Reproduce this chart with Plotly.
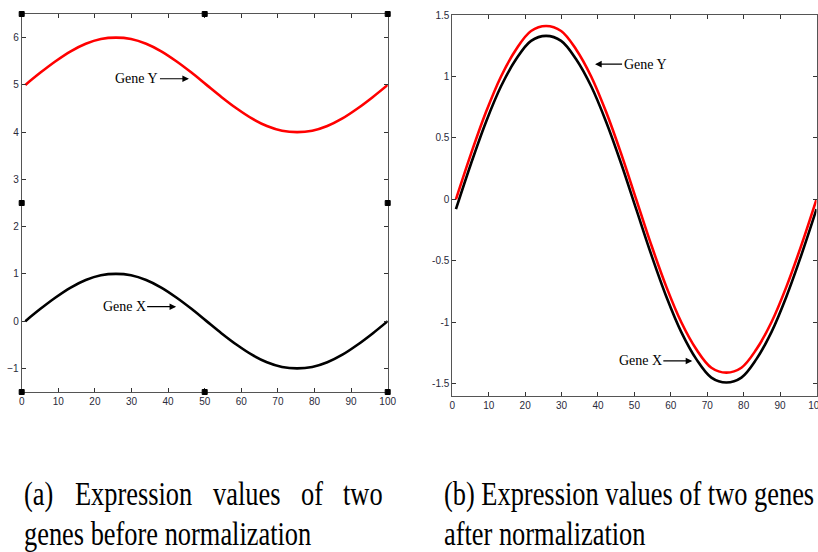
import plotly.graph_objects as go

# ---- data ----
x_pts = [1.0, 5.13, 9.25, 13.38, 17.5, 21.63, 25.75, 29.88, 34.0, 38.13, 42.25, 46.38, 50.5,
         54.63, 58.75, 62.88, 67.0, 71.13, 75.25, 79.38, 83.5, 87.63, 91.75, 95.88, 100.0]

gene_x_before = [0, 0.26, 0.5, 0.71, 0.87, 0.97, 1.0, 0.97, 0.87, 0.71, 0.5, 0.26, 0,
                 -0.26, -0.5, -0.71, -0.87, -0.97, -1.0, -0.97, -0.87, -0.71, -0.5, -0.26, 0]
gene_y_before = [5.0, 5.26, 5.5, 5.71, 5.87, 5.97, 6.0, 5.97, 5.87, 5.71, 5.5, 5.26, 5.0,
                 4.74, 4.5, 4.29, 4.13, 4.03, 4.0, 4.03, 4.13, 4.29, 4.5, 4.74, 5.0]

gene_y_after = [0, 0.37, 0.71, 1.0, 1.22, 1.37, 1.41, 1.37, 1.22, 1.0, 0.71, 0.37, 0,
                -0.37, -0.71, -1.0, -1.22, -1.37, -1.41, -1.37, -1.22, -1.0, -0.71, -0.37, 0]
gene_x_after = [-0.08, 0.29, 0.63, 0.92, 1.14, 1.29, 1.33, 1.29, 1.14, 0.92, 0.63, 0.29, -0.08,
                -0.45, -0.79, -1.08, -1.30, -1.45, -1.49, -1.45, -1.30, -1.08, -0.79, -0.45, -0.08]

x_ticks = [0, 10, 20, 30, 40, 50, 60, 70, 80, 90, 100]
y_ticks_left = [-1, 0, 1, 2, 3, 4, 5, 6]
y_ticks_right = [-1.5, -1, -0.5, 0, 0.5, 1, 1.5]
y_ticktext_right = ["-1.5", "-1", "-0.5", "0", "0.5", "1", "1.5"]

W, H = 818, 552

fig = go.Figure()

line_w = 2.6
fig.add_trace(go.Scatter(x=x_pts, y=gene_y_before, mode="lines", line=dict(color="#ff0000", width=line_w, shape="spline"),
                         xaxis="x", yaxis="y", showlegend=False, hoverinfo="skip"))
fig.add_trace(go.Scatter(x=x_pts, y=gene_x_before, mode="lines", line=dict(color="#000000", width=line_w, shape="spline"),
                         xaxis="x", yaxis="y", showlegend=False, hoverinfo="skip"))
fig.add_trace(go.Scatter(x=x_pts, y=gene_x_after, mode="lines", line=dict(color="#000000", width=line_w, shape="spline"),
                         xaxis="x2", yaxis="y2", showlegend=False, hoverinfo="skip"))
fig.add_trace(go.Scatter(x=x_pts, y=gene_y_after, mode="lines", line=dict(color="#ff0000", width=line_w, shape="spline"),
                         xaxis="x2", yaxis="y2", showlegend=False, hoverinfo="skip"))

tickfont = dict(family="Liberation Sans, Arial, sans-serif", size=10, color="#2a2a3a")
axis_common = dict(showgrid=False, zeroline=False, showline=True, linecolor="#555555", linewidth=1,
                   ticks="inside", ticklen=4, tickcolor="#333333", tickwidth=1, mirror="ticks",
                   tickfont=tickfont, automargin=False)

fig.update_layout(
    width=W, height=H, autosize=False,
    margin=dict(l=0, r=0, t=0, b=0, pad=0),
    paper_bgcolor="white", plot_bgcolor="white",
    xaxis=dict(domain=[21.7 / W, 387.7 / W], range=[0, 100], tickvals=x_ticks, anchor="y", **axis_common),
    yaxis=dict(domain=[1 - 392 / H, 1 - 14 / H], range=[-1.5, 6.5], tickvals=y_ticks_left, anchor="x", **axis_common),
    xaxis2=dict(domain=[452.3 / W, 816.5 / W], range=[0, 100], tickvals=x_ticks, anchor="y2",
                ticklabeloverflow="allow", **axis_common),
    yaxis2=dict(domain=[1 - 396 / H, 1 - 15 / H], range=[-1.6, 1.5], tickvals=y_ticks_right,
                ticktext=y_ticktext_right, anchor="x2", **axis_common),
)

# selection handles around left axes (corners and edge midpoints)
handle_pos = [(0, 0), (0.5, 0), (1, 0), (0, 0.5), (1, 0.5), (0, 1), (0.5, 1), (1, 1)]
for hx, hy in handle_pos:
    fig.add_shape(type="rect", xref="x domain", yref="y domain",
                  xsizemode="pixel", ysizemode="pixel", xanchor=hx, yanchor=hy,
                  x0=-2.5, x1=2.5, y0=-2.5, y1=2.5,
                  line=dict(color="black", width=1), fillcolor="black")

# gene labels with arrows
label_font = dict(family="Liberation Serif, Times New Roman, serif", size=14, color="black")
arrow_kw = dict(showarrow=True, arrowhead=2, arrowsize=1.1, arrowwidth=1.2, arrowcolor="black",
                standoff=0, ay=0, font=label_font)
fig.add_annotation(x=45.7, y=5.13, xref="x", yref="y", text="Gene Y", ax=-52, **arrow_kw)
fig.add_annotation(x=42.2, y=0.305, xref="x", yref="y", text="Gene X", ax=-52, **arrow_kw)
fig.add_annotation(x=39.2, y=1.10, xref="x2", yref="y2", text="Gene Y", ax=50, **arrow_kw)
fig.add_annotation(x=65.9, y=-1.315, xref="x2", yref="y2", text="Gene X", ax=-52, **arrow_kw)

# captions
cap_font = dict(family="Liberation Serif, Times New Roman, serif", size=26.4, color="black")
def cap(text, px, py):
    fig.add_annotation(x=px / W, y=1 - py / H, xref="paper", yref="paper", text=text,
                       showarrow=False, xanchor="left", yanchor="middle", font=cap_font)

line1_y = 493
line2_y = 533
cap("(a)", 22, line1_y)
cap("Expression", 73, line1_y)
cap("values", 211, line1_y)
cap("of", 299, line1_y)
cap("two", 341, line1_y)
cap("genes before normalization", 22, line2_y)
cap("(b) Expression values of two genes", 442, line1_y)
cap("after normalization", 442, line2_y)

post = """
document.documentElement.style.margin = '0';
document.documentElement.style.overflow = 'hidden';
document.body.style.margin = '0';
document.body.style.overflow = 'hidden';
var s = 1.3;
document.querySelectorAll('text.annotation-text').forEach(function(t){
  if (t.style.fontSize === '26.4px') {
    var b = t.getBBox();
    var cy = b.y + b.height / 2;
    t.setAttribute('transform', 'translate(0,' + (cy * (1 - s)) + ') scale(1,' + s + ')');
  }
});
"""

fig.write_html("out.html", post_script=post, config={"displayModeBar": False})
